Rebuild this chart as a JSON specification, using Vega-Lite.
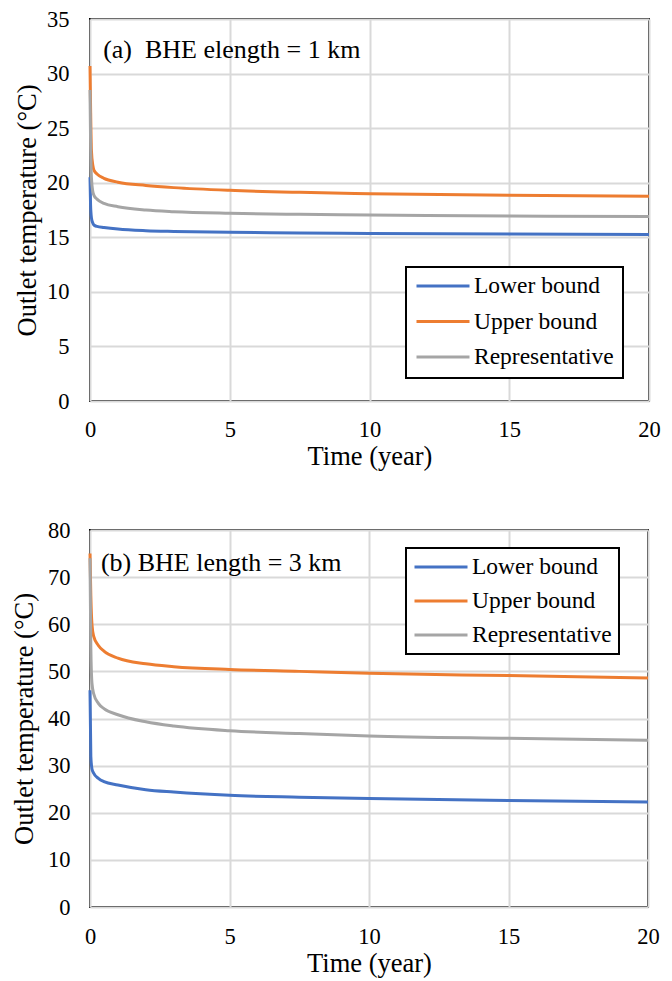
{
  "$schema": "https://vega.github.io/schema/vega-lite/v6.json",
  "padding": {"left": 10, "top": 7, "right": 5, "bottom": 0},
  "config": {
    "font": "Liberation Serif",
    "view": {"stroke": "black", "strokeWidth": 2},
    "axis": {
      "domain": false, "ticks": false, "tickSize": 0, "grid": true,
      "gridColor": "#d9d9d9", "gridWidth": 2,
      "labelFont": "Liberation Serif", "labelFontSize": 22.5, "labelColor": "black",
      "labelFlush": false, "labelOverlap": false,
      "titleFont": "Liberation Serif", "titleFontSize": 26.5, "titleFontWeight": "normal", "titleColor": "black"
    },
    "legend": {"strokeWidth": 2}
  },
  "datasets": {
    "a": [
      {"t": 0, "T": 20.5, "s": "Lower bound"},
      {"t": 0.02, "T": 18.0, "s": "Lower bound"},
      {"t": 0.05, "T": 16.8, "s": "Lower bound"},
      {"t": 0.1, "T": 16.3, "s": "Lower bound"},
      {"t": 0.15, "T": 16.1, "s": "Lower bound"},
      {"t": 0.25, "T": 16.0, "s": "Lower bound"},
      {"t": 0.5, "T": 15.9, "s": "Lower bound"},
      {"t": 1, "T": 15.75, "s": "Lower bound"},
      {"t": 2, "T": 15.6, "s": "Lower bound"},
      {"t": 3, "T": 15.53, "s": "Lower bound"},
      {"t": 5, "T": 15.45, "s": "Lower bound"},
      {"t": 7.5, "T": 15.4, "s": "Lower bound"},
      {"t": 10, "T": 15.35, "s": "Lower bound"},
      {"t": 15, "T": 15.3, "s": "Lower bound"},
      {"t": 20, "T": 15.25, "s": "Lower bound"},
      {"t": 0, "T": 30.7, "s": "Upper bound"},
      {"t": 0.02, "T": 27.0, "s": "Upper bound"},
      {"t": 0.05, "T": 23.0, "s": "Upper bound"},
      {"t": 0.1, "T": 21.6, "s": "Upper bound"},
      {"t": 0.15, "T": 21.1, "s": "Upper bound"},
      {"t": 0.25, "T": 20.8, "s": "Upper bound"},
      {"t": 0.5, "T": 20.4, "s": "Upper bound"},
      {"t": 1, "T": 20.05, "s": "Upper bound"},
      {"t": 2, "T": 19.75, "s": "Upper bound"},
      {"t": 3, "T": 19.55, "s": "Upper bound"},
      {"t": 5, "T": 19.3, "s": "Upper bound"},
      {"t": 7.5, "T": 19.12, "s": "Upper bound"},
      {"t": 10, "T": 19.0, "s": "Upper bound"},
      {"t": 15, "T": 18.85, "s": "Upper bound"},
      {"t": 20, "T": 18.75, "s": "Upper bound"},
      {"t": 0, "T": 28.5, "s": "Representative"},
      {"t": 0.02, "T": 24.0, "s": "Representative"},
      {"t": 0.05, "T": 20.5, "s": "Representative"},
      {"t": 0.1, "T": 19.2, "s": "Representative"},
      {"t": 0.15, "T": 18.8, "s": "Representative"},
      {"t": 0.25, "T": 18.5, "s": "Representative"},
      {"t": 0.5, "T": 18.1, "s": "Representative"},
      {"t": 1, "T": 17.8, "s": "Representative"},
      {"t": 2, "T": 17.5, "s": "Representative"},
      {"t": 3, "T": 17.35, "s": "Representative"},
      {"t": 5, "T": 17.2, "s": "Representative"},
      {"t": 7.5, "T": 17.1, "s": "Representative"},
      {"t": 10, "T": 17.05, "s": "Representative"},
      {"t": 15, "T": 16.95, "s": "Representative"},
      {"t": 20, "T": 16.9, "s": "Representative"}
    ],
    "b": [
      {"t": 0, "T": 46, "s": "Lower bound"},
      {"t": 0.03, "T": 32, "s": "Lower bound"},
      {"t": 0.07, "T": 29.3, "s": "Lower bound"},
      {"t": 0.13, "T": 28.4, "s": "Lower bound"},
      {"t": 0.3, "T": 27.3, "s": "Lower bound"},
      {"t": 0.5, "T": 26.6, "s": "Lower bound"},
      {"t": 1, "T": 25.9, "s": "Lower bound"},
      {"t": 2, "T": 24.9, "s": "Lower bound"},
      {"t": 3, "T": 24.4, "s": "Lower bound"},
      {"t": 5, "T": 23.7, "s": "Lower bound"},
      {"t": 7.5, "T": 23.3, "s": "Lower bound"},
      {"t": 10, "T": 23.0, "s": "Lower bound"},
      {"t": 15, "T": 22.6, "s": "Lower bound"},
      {"t": 20, "T": 22.3, "s": "Lower bound"},
      {"t": 0, "T": 75, "s": "Upper bound"},
      {"t": 0.03, "T": 66, "s": "Upper bound"},
      {"t": 0.07, "T": 60, "s": "Upper bound"},
      {"t": 0.13, "T": 57.5, "s": "Upper bound"},
      {"t": 0.3, "T": 55.5, "s": "Upper bound"},
      {"t": 0.5, "T": 54.3, "s": "Upper bound"},
      {"t": 1, "T": 52.8, "s": "Upper bound"},
      {"t": 2, "T": 51.6, "s": "Upper bound"},
      {"t": 3, "T": 51.0, "s": "Upper bound"},
      {"t": 5, "T": 50.4, "s": "Upper bound"},
      {"t": 7.5, "T": 50.0, "s": "Upper bound"},
      {"t": 10, "T": 49.6, "s": "Upper bound"},
      {"t": 15, "T": 49.1, "s": "Upper bound"},
      {"t": 20, "T": 48.6, "s": "Upper bound"},
      {"t": 0, "T": 74, "s": "Representative"},
      {"t": 0.03, "T": 55, "s": "Representative"},
      {"t": 0.07, "T": 47.5, "s": "Representative"},
      {"t": 0.13, "T": 45.3, "s": "Representative"},
      {"t": 0.3, "T": 43.2, "s": "Representative"},
      {"t": 0.5, "T": 42.1, "s": "Representative"},
      {"t": 1, "T": 40.8, "s": "Representative"},
      {"t": 2, "T": 39.3, "s": "Representative"},
      {"t": 3, "T": 38.4, "s": "Representative"},
      {"t": 5, "T": 37.4, "s": "Representative"},
      {"t": 7.5, "T": 36.8, "s": "Representative"},
      {"t": 10, "T": 36.3, "s": "Representative"},
      {"t": 15, "T": 35.8, "s": "Representative"},
      {"t": 20, "T": 35.4, "s": "Representative"}
    ]
  },
  "align": "none",
  "spacing": 47,
  "resolve": {"legend": {"color": "independent"}},
  "vconcat": [
    {
      "width": 559,
      "height": 382,
      "layer": [
        {
          "data": {"name": "a"},
          "mark": {"type": "line", "strokeWidth": 3, "interpolate": "monotone"},
          "encoding": {
            "x": {"field": "t", "type": "quantitative", "scale": {"domain": [0, 20], "nice": false},
                  "axis": {"values": [0, 5, 10, 15, 20], "title": "Time (year)", "labelPadding": 17, "titlePadding": 3}},
            "y": {"field": "T", "type": "quantitative", "scale": {"domain": [0, 35], "nice": false},
                  "axis": {"values": [0, 5, 10, 15, 20, 25, 30, 35], "title": "Outlet temperature (°C)", "labelPadding": 21, "titlePadding": 5}},
            "color": {"field": "s", "type": "nominal",
                      "scale": {"domain": ["Lower bound", "Upper bound", "Representative"], "range": ["#4472C4", "#ED7D31", "#A5A5A5"]},
                      "legend": {"title": null, "orient": "none", "legendX": 316, "legendY": 248,
                                 "strokeColor": "black", "fillColor": "white", "padding": 9,
                                 "symbolType": "stroke", "symbolSize": 2809, "symbolStrokeWidth": 3,
                                 "labelFont": "Liberation Serif", "labelFontSize": 23.5, "labelColor": "black",
                                 "labelOffset": 3, "rowPadding": 11.5, "clipHeight": 20, "labelLimit": 300}}
          }
        },
        {
          "data": {"values": [{}]},
          "mark": {"type": "text", "align": "left", "baseline": "middle", "fontSize": 26, "font": "Liberation Serif", "color": "black"},
          "encoding": {
            "x": {"datum": 0.47, "type": "quantitative"},
            "y": {"datum": 32.2, "type": "quantitative"},
            "text": {"value": "(a)\u00a0 BHE elength = 1 km"}
          }
        }
      ]
    },
    {
      "width": 558,
      "height": 377,
      "layer": [
        {
          "data": {"name": "b"},
          "mark": {"type": "line", "strokeWidth": 3, "interpolate": "monotone"},
          "encoding": {
            "x": {"field": "t", "type": "quantitative", "scale": {"domain": [0, 20], "nice": false},
                  "axis": {"values": [0, 5, 10, 15, 20], "title": "Time (year)", "labelPadding": 18, "titlePadding": 3}},
            "y": {"field": "T", "type": "quantitative", "scale": {"domain": [0, 80], "nice": false},
                  "axis": {"values": [0, 10, 20, 30, 40, 50, 60, 70, 80], "title": "Outlet temperature (°C)", "labelPadding": 20, "titlePadding": 9}},
            "color": {"field": "s", "type": "nominal",
                      "scale": {"domain": ["Lower bound", "Upper bound", "Representative"], "range": ["#4472C4", "#ED7D31", "#A5A5A5"]},
                      "legend": {"title": null, "orient": "none", "legendX": 316, "legendY": 18,
                                 "strokeColor": "black", "fillColor": "white", "padding": 7,
                                 "symbolType": "stroke", "symbolSize": 2809, "symbolStrokeWidth": 3,
                                 "labelFont": "Liberation Serif", "labelFontSize": 23.5, "labelColor": "black",
                                 "labelOffset": 3, "rowPadding": 10, "clipHeight": 24, "labelLimit": 300}}
          }
        },
        {
          "data": {"values": [{}]},
          "mark": {"type": "text", "align": "left", "baseline": "middle", "fontSize": 26, "font": "Liberation Serif", "color": "black"},
          "encoding": {
            "x": {"datum": 0.39, "type": "quantitative"},
            "y": {"datum": 73.0, "type": "quantitative"},
            "text": {"value": "(b) BHE length = 3 km"}
          }
        }
      ]
    }
  ]
}
